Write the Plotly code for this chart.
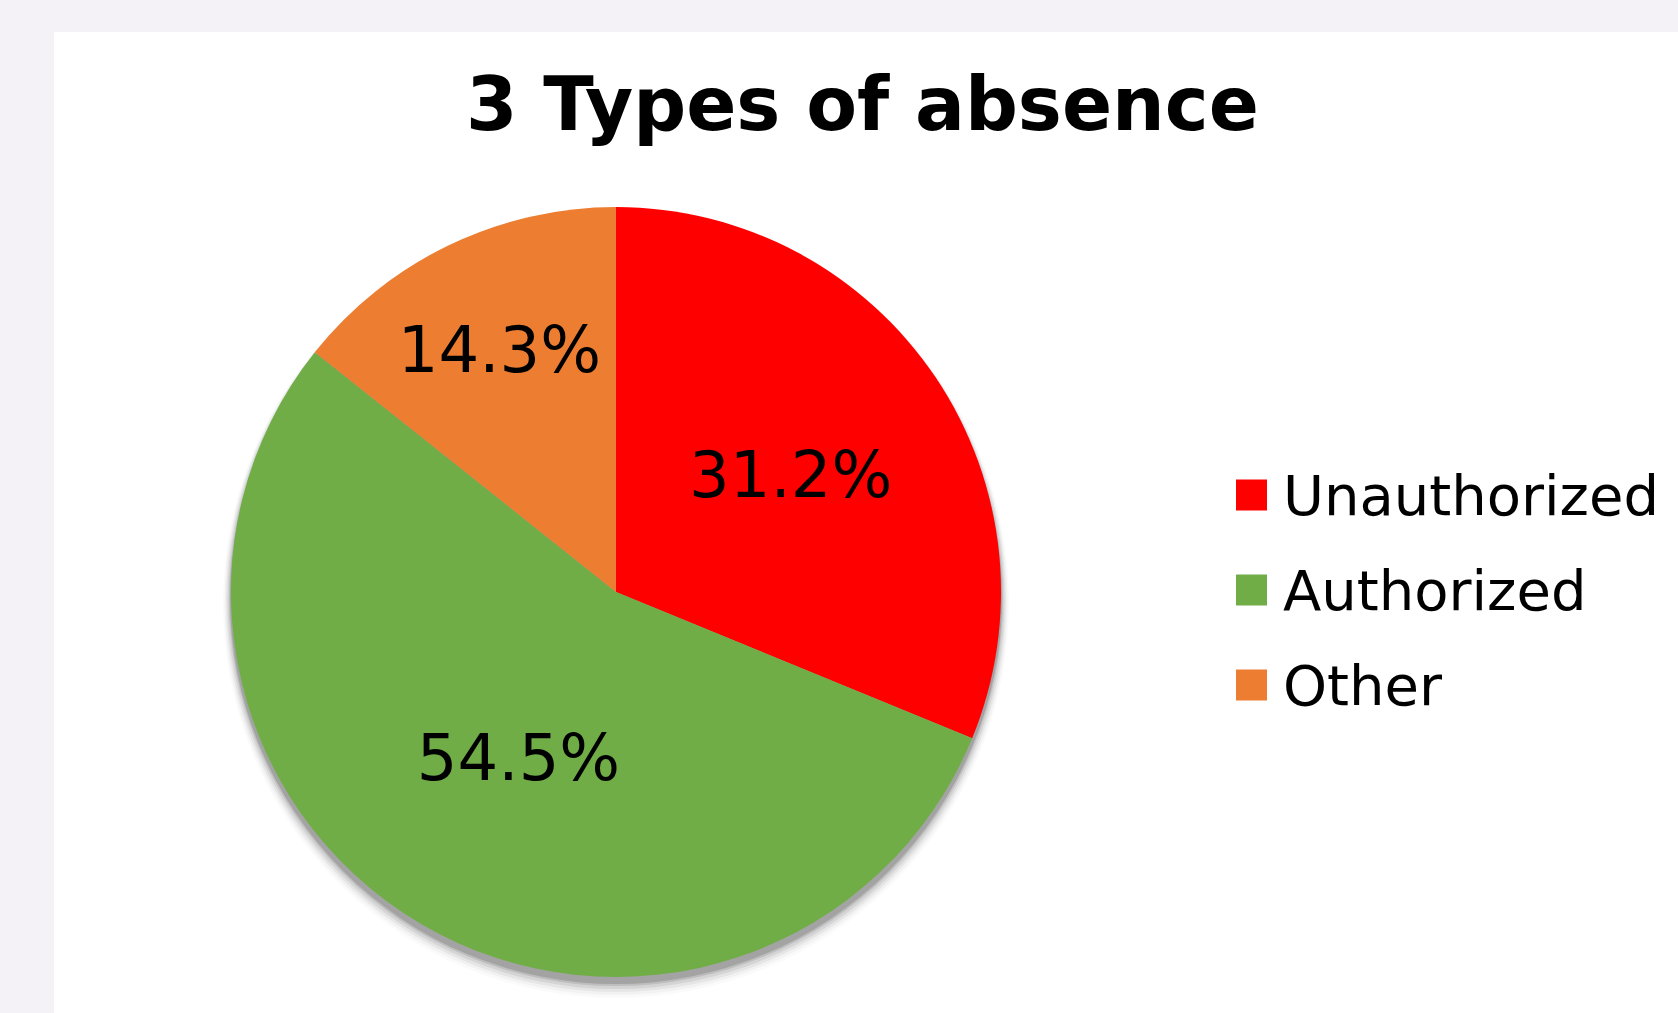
import plotly.graph_objects as go

# ---- data ----
labels = ["Unauthorized", "Authorized", "Other"]
values = [31.2, 54.5, 14.3]
colors = ["#FF0000", "#70AD47", "#ED7D31"]
title_text = "3 Types of absence"

W, H = 1678, 1013
FONT = "Verdana, DejaVu Sans, sans-serif"

def px(x):
    return x / W

def py(y):
    return 1 - y / H

# pie geometry (pixels)
cx, cy, r = 616, 592, 385

fig = go.Figure()
fig.add_trace(go.Pie(
    labels=labels,
    values=values,
    marker=dict(colors=colors, line=dict(width=0)),
    sort=False,
    direction="clockwise",
    rotation=0,
    textinfo="percent",
    texttemplate="%{percent:.1%}",
    textposition="inside",
    insidetextorientation="horizontal",
    textfont=dict(family=FONT, size=64, color="black"),
    hoverinfo="label+percent",
    showlegend=False,
    domain=dict(x=[px(cx - r), px(cx + r)], y=[py(cy + r), py(cy - r)]),
))

shapes = [
    # white panel
    dict(type="rect", xref="paper", yref="paper", x0=px(54), x1=1.0, y0=0, y1=py(32),
         fillcolor="white", line=dict(width=0), layer="below"),
]
# soft shadow under the pie
for grow, op in [(16, 0.02), (13, 0.03), (10, 0.05), (7, 0.07), (4, 0.10), (2, 0.14)]:
    off = 5
    shapes.append(dict(type="circle", xref="paper", yref="paper",
                       x0=px(cx - r - grow * 0.5), x1=px(cx + r + grow * 0.5),
                       y0=py(cy + off + r + grow), y1=py(cy + off - r - grow * 0.2),
                       fillcolor=f"rgba(0,0,0,{op})", line=dict(width=0), layer="below"))

annotations = [
    dict(text=f"<b>{title_text}</b>", xref="paper", yref="paper", x=px(862), y=py(104),
         xanchor="center", yanchor="middle", showarrow=False,
         font=dict(family=FONT, size=74, color="black")),
]

# legend (built from the data lists)
leg_x0, leg_y0, leg_step, sq = 1236, 495, 95, 31
for i, (lab, col) in enumerate(zip(labels, colors)):
    yc = leg_y0 + leg_step * i
    shapes.append(dict(type="rect", xref="paper", yref="paper",
                       x0=px(leg_x0), x1=px(leg_x0 + sq), y0=py(yc + sq / 2), y1=py(yc - sq / 2),
                       fillcolor=col, line=dict(width=0)))
    annotations.append(dict(text=lab, xref="paper", yref="paper", x=px(leg_x0 + 45), y=py(yc),
                            xanchor="left", yanchor="middle", showarrow=False,
                            font=dict(family=FONT, size=56, color="black")))

fig.update_layout(
    width=W, height=H,
    margin=dict(l=0, r=0, t=0, b=0),
    paper_bgcolor="#F5F2F7",
    plot_bgcolor="white",
    shapes=shapes,
    annotations=annotations,
    showlegend=False,
)

fig.write_html("out.html", config={"displayModeBar": False},
               post_script="document.body.style.margin='0';")
